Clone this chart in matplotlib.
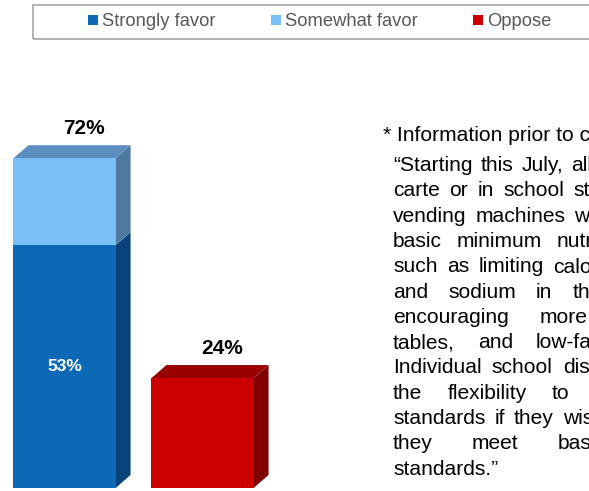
import matplotlib
matplotlib.use('Agg')
import matplotlib.pyplot as plt
from matplotlib.patches import Polygon, Rectangle, Patch

plt.rcParams['font.family'] = ['Liberation Sans', 'DejaVu Sans']

# ---- data ----
bar_pos = [0, 1]
series_names = ['Strongly favor', 'Somewhat favor', 'Oppose']
series_vals = [[53, 0], [19, 0], [0, 24]]
total_labels = ['72%', '24%']
inner_label = '53%'

front_cols = ['#0D68B6', '#7BBFF7', '#CC0000']
side_cols = ['#0A437A', '#4E7AA0', '#800000']
top_cols = ['#2F6FAE', '#5B8EBF', '#990000']

note_head = '* Information prior to choice'
note_lines = [
    ['\u201cStarting', 'this', 'July,', 'all'],
    ['carte', 'or', 'in', 'school', 'stores'],
    ['vending', 'machines', 'will'],
    ['basic', 'minimum', 'nutrition'],
    ['such', 'as', 'limiting', 'calories,'],
    ['and', 'sodium', 'in', 'the'],
    ['encouraging', 'more'],
    ['tables,', 'and', 'low-fat'],
    ['Individual', 'school', 'districts'],
    ['the', 'flexibility', 'to'],
    ['standards', 'if', 'they', 'wish,'],
    ['they', 'meet', 'basic'],
    ['standards.\u201d'],
]
# word spacing in pixels for each justified line (None = normal space)
note_gaps = [8.0, 9.4, 9.0, 14.5, 9.5, 20, 31, 23, 10.2, 25, 9.0, 39, None]

W, H = 589, 491
fig = plt.figure(figsize=(W / 100, H / 100), dpi=100)

# axes: y in percent (4.58 px per %), x in bar units (138 px per bar)
ax = fig.add_axes([0, 3 / H, 300 / W, 458 / H])
ax.set_ylim(0, 100)
ax.set_xlim(-64.5 / 138, (300 - 64.5) / 138)
ax.axis('off')

bw = 0.74
dx, dy = 15 / 138, 13 / 4.58

bottoms = [0, 0]
for k, vals in enumerate(series_vals):
    for i, v in enumerate(vals):
        if v <= 0:
            continue
        x, b = bar_pos[i], bottoms[i]
        ax.bar(x, v, bw, bottom=b, color=front_cols[k], linewidth=0, zorder=3)
        xr = x + bw / 2
        ax.add_patch(Polygon([(xr, b), (xr + dx, b + dy), (xr + dx, b + v + dy), (xr, b + v)],
                             closed=True, facecolor=side_cols[k], lw=0, zorder=2))
        bottoms[i] += v

# top faces, coloured like the top segment
for i, x in enumerate(bar_pos):
    top = bottoms[i]
    k = 1 if i == 0 else 2
    xl, xr = x - bw / 2, x + bw / 2
    ax.add_patch(Polygon([(xl, top), (xl + dx, top + dy), (xr + dx, top + dy), (xr, top)],
                         closed=True, facecolor=top_cols[k], lw=0, zorder=2))
    ax.text(x + 0.14, top + 6.4, total_labels[i], ha='center', va='center',
            fontsize=15, fontweight='bold', color='black')

ax.text(bar_pos[0], series_vals[0][0] / 2, inner_label, ha='center', va='center',
        fontsize=12.5, fontweight='bold', color='white', zorder=4)

# legend with a frame that runs off the right edge
fig.patches.append(Rectangle((33 / W, 1 - 39 / H), 600 / W, 34 / H, transform=fig.transFigure,
                             facecolor='none', edgecolor='#a6a6a6', lw=1.2))
handles = [Patch(facecolor=c, edgecolor='none') for c in front_cols]
fig.legend(handles, series_names, ncol=3, loc='center left', bbox_to_anchor=(88 / W, 1 - 22 / H),
           frameon=False, fontsize=13.2, labelcolor='#595959', borderpad=0, borderaxespad=0,
           handlelength=0.52, handleheight=0.52, handletextpad=0.22, columnspacing=3.05)

# justified note text, placed word by word
fs = 15.1
renderer = fig.canvas.get_renderer()


def text_w(s):
    t = fig.text(0, 0, s, fontsize=fs)
    w = t.get_window_extent(renderer).width
    t.remove()
    return w


fig.text(383 / W, 1 - 141 / H, note_head, fontsize=fs, color='black', va='baseline')
y0, lh = 171, 25.3
for j, words in enumerate(note_lines):
    gap = note_gaps[j] if note_gaps[j] is not None else 4.2
    xp = 393
    for w in words:
        fig.text(xp / W, 1 - (y0 + j * lh) / H, w, fontsize=fs, color='black', va='baseline')
        xp += text_w(w) + gap

fig.savefig('out.png', dpi=100)
